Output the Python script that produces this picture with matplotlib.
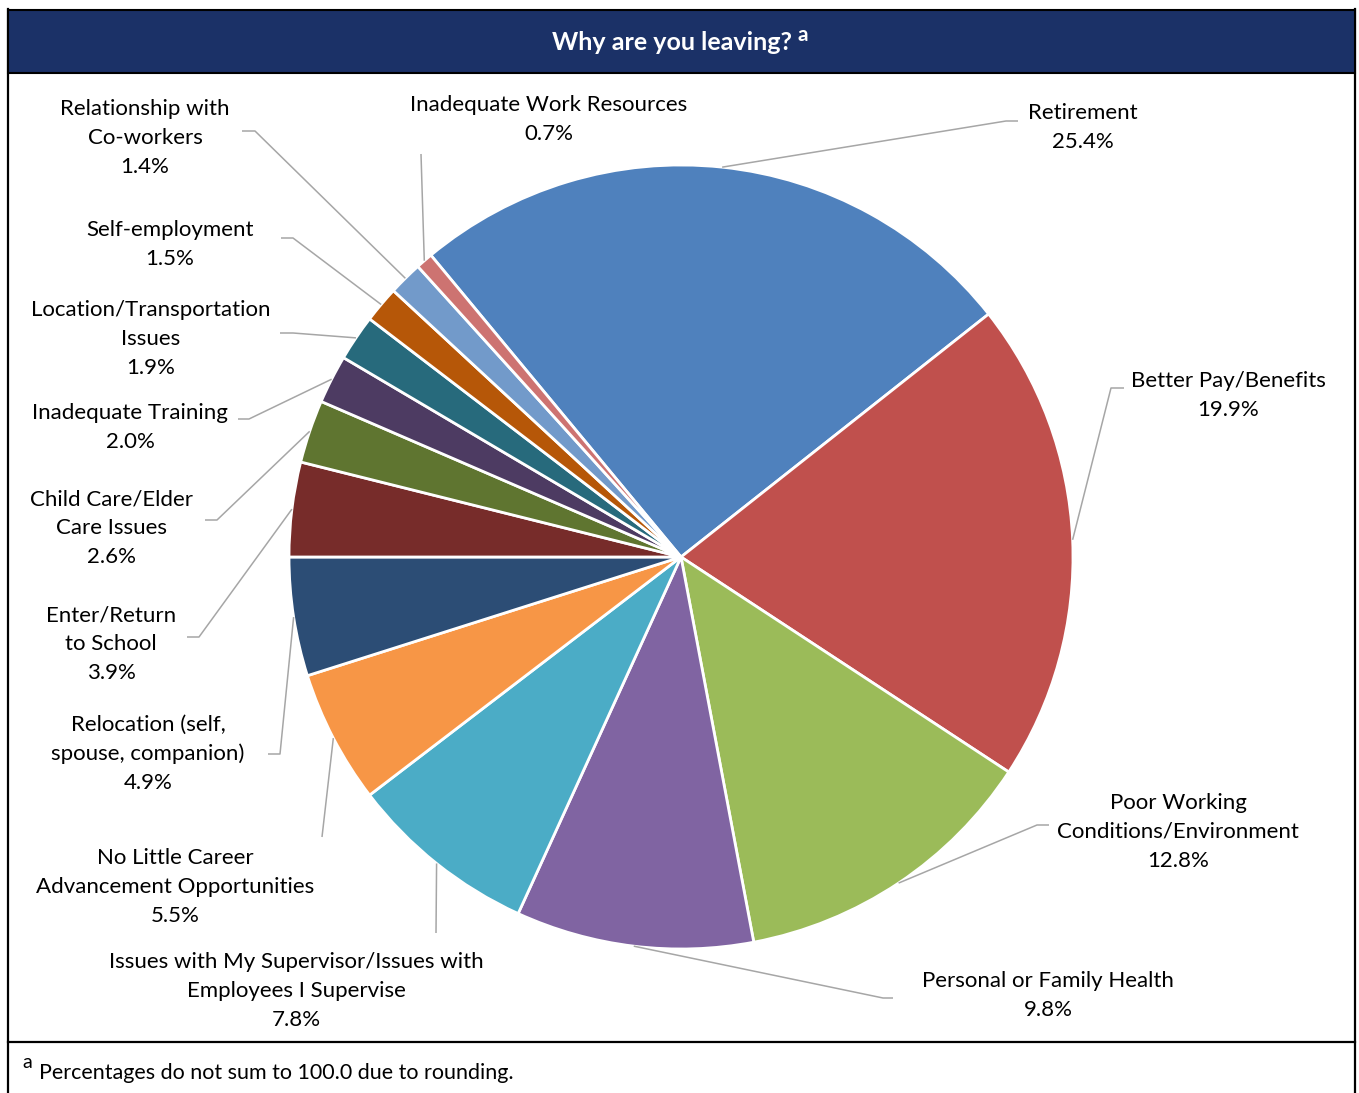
import matplotlib
matplotlib.use("Agg")
import matplotlib.pyplot as plt
from matplotlib.patches import Rectangle
import numpy as np

# ---- data -------------------------------------------------------------
reasons = [
    "Retirement",
    "Better Pay/Benefits",
    "Poor Working\nConditions/Environment",
    "Personal or Family Health",
    "Issues with My Supervisor/Issues with\nEmployees I Supervise",
    "No Little Career\nAdvancement Opportunities",
    "Relocation (self,\nspouse, companion)",
    "Enter/Return\nto School",
    "Child Care/Elder\nCare Issues",
    "Inadequate Training",
    "Location/Transportation\nIssues",
    "Self-employment",
    "Relationship with\nCo-workers",
    "Inadequate Work Resources",
]
percents = [25.4, 19.9, 12.8, 9.8, 7.8, 5.5, 4.9, 3.9, 2.6, 2.0, 1.9, 1.5, 1.4, 0.7]
colors = ["#4F81BD", "#C0504D", "#9BBB59", "#8064A2", "#4BACC6", "#F79646",
          "#2C4D75", "#772C2A", "#5F7530", "#4D3B62", "#276A7C", "#B65708",
          "#729ACA", "#CD7371"]
title = "Why are you leaving?"
footnote = "Percentages do not sum to 100.0 due to rounding."

# ---- layout (pixel coordinates, y measured from the top) ---------------
W, H = 1359, 1093
CENTER = (681, 557)
RADIUS = 392
label_pos = [(1083, 125.5), (1228, 393.5), (1178, 830), (1048, 993.5),
             (296, 988.7), (175, 884.7), (148, 752), (111, 642), (112, 526),
             (130, 425.5), (151, 336.7), (170, 242.5), (145, 136.3), (549, 117.5)]
LABEL_DY = 2  # optical correction: text boxes include descenders
leader_path = [
    [(1006, 121), (1018, 121)],
    [(1111, 388), (1124, 388)],
    [(1037, 825), (1049, 825)],
    [(883, 998), (893, 998)],
    [(436, 933)],
    [(322, 837)],
    [(280, 754), (268, 754)],
    [(199, 637), (187, 637)],
    [(217, 520), (205, 520)],
    [(249, 419), (238, 419)],
    [(293, 333), (280, 333)],
    [(293, 238), (281, 238)],
    [(255, 131), (242, 131)],
    [(421, 154)],
]

FONT = "Lato"
FS = 16
NAVY = "#1B3167"
LEADER = "#A6A6A6"


def Y(y):
    return H - y


fig = plt.figure(figsize=(W / 100, H / 100), dpi=100)
ax = fig.add_axes([0, 0, 1, 1])

total = sum(percents)
# the slices after "Relocation" fill the arc from 9 o'clock back up to the first slice
start = 180 - sum(percents[7:]) / total * 360
wedges, _ = ax.pie(percents, colors=colors, startangle=start, counterclock=False,
                   center=(CENTER[0], Y(CENTER[1])), radius=RADIUS,
                   wedgeprops=dict(edgecolor="white", linewidth=2.0))
ax.set_xlim(0, W)
ax.set_ylim(0, H)
ax.set_aspect("equal")
ax.axis("off")

# leader lines and labels
for w, pct, name, (lx, ly), path in zip(wedges, percents, reasons, label_pos, leader_path):
    mid = np.deg2rad((w.theta1 + w.theta2) / 2)
    x0 = CENTER[0] + RADIUS * np.cos(mid)
    y0 = Y(CENTER[1]) + RADIUS * np.sin(mid)
    xs = [x0] + [p[0] for p in path]
    ys = [y0] + [Y(p[1]) for p in path]
    ax.plot(xs, ys, color=LEADER, lw=1.1, solid_capstyle="butt", zorder=1)
    ax.text(lx, Y(ly + LABEL_DY), f"{name}\n{pct:.1f}%", ha="center", va="center",
            fontsize=FS, family=FONT, color="black", linespacing=1.56)

# header band
ax.add_patch(Rectangle((8, Y(73)), 1347, 63, facecolor=NAVY, edgecolor="black",
                       linewidth=1.5, zorder=3))
ax.text(671.5, Y(43), title, ha="center", va="center", fontsize=18,
        family=FONT, weight="bold", color="white", zorder=4)
ax.text(803, Y(35), "a", ha="center", va="center", fontsize=15,
        family=FONT, weight="bold", color="white", zorder=4)

# outer frame and footnote rule
ax.plot([8, 8], [Y(9), 0], color="black", lw=1.6)
ax.plot([1355, 1355], [Y(9), 0], color="black", lw=1.6)
ax.plot([8, 1355], [Y(1042), Y(1042)], color="black", lw=1.6)

ax.text(27, Y(1063), "a", ha="center", va="center", fontsize=14,
        family=FONT, color="black")
ax.text(39, Y(1073), footnote, ha="left", va="center", fontsize=15.5,
        family=FONT, color="black")

fig.savefig("out.png", dpi=100, facecolor="white")
